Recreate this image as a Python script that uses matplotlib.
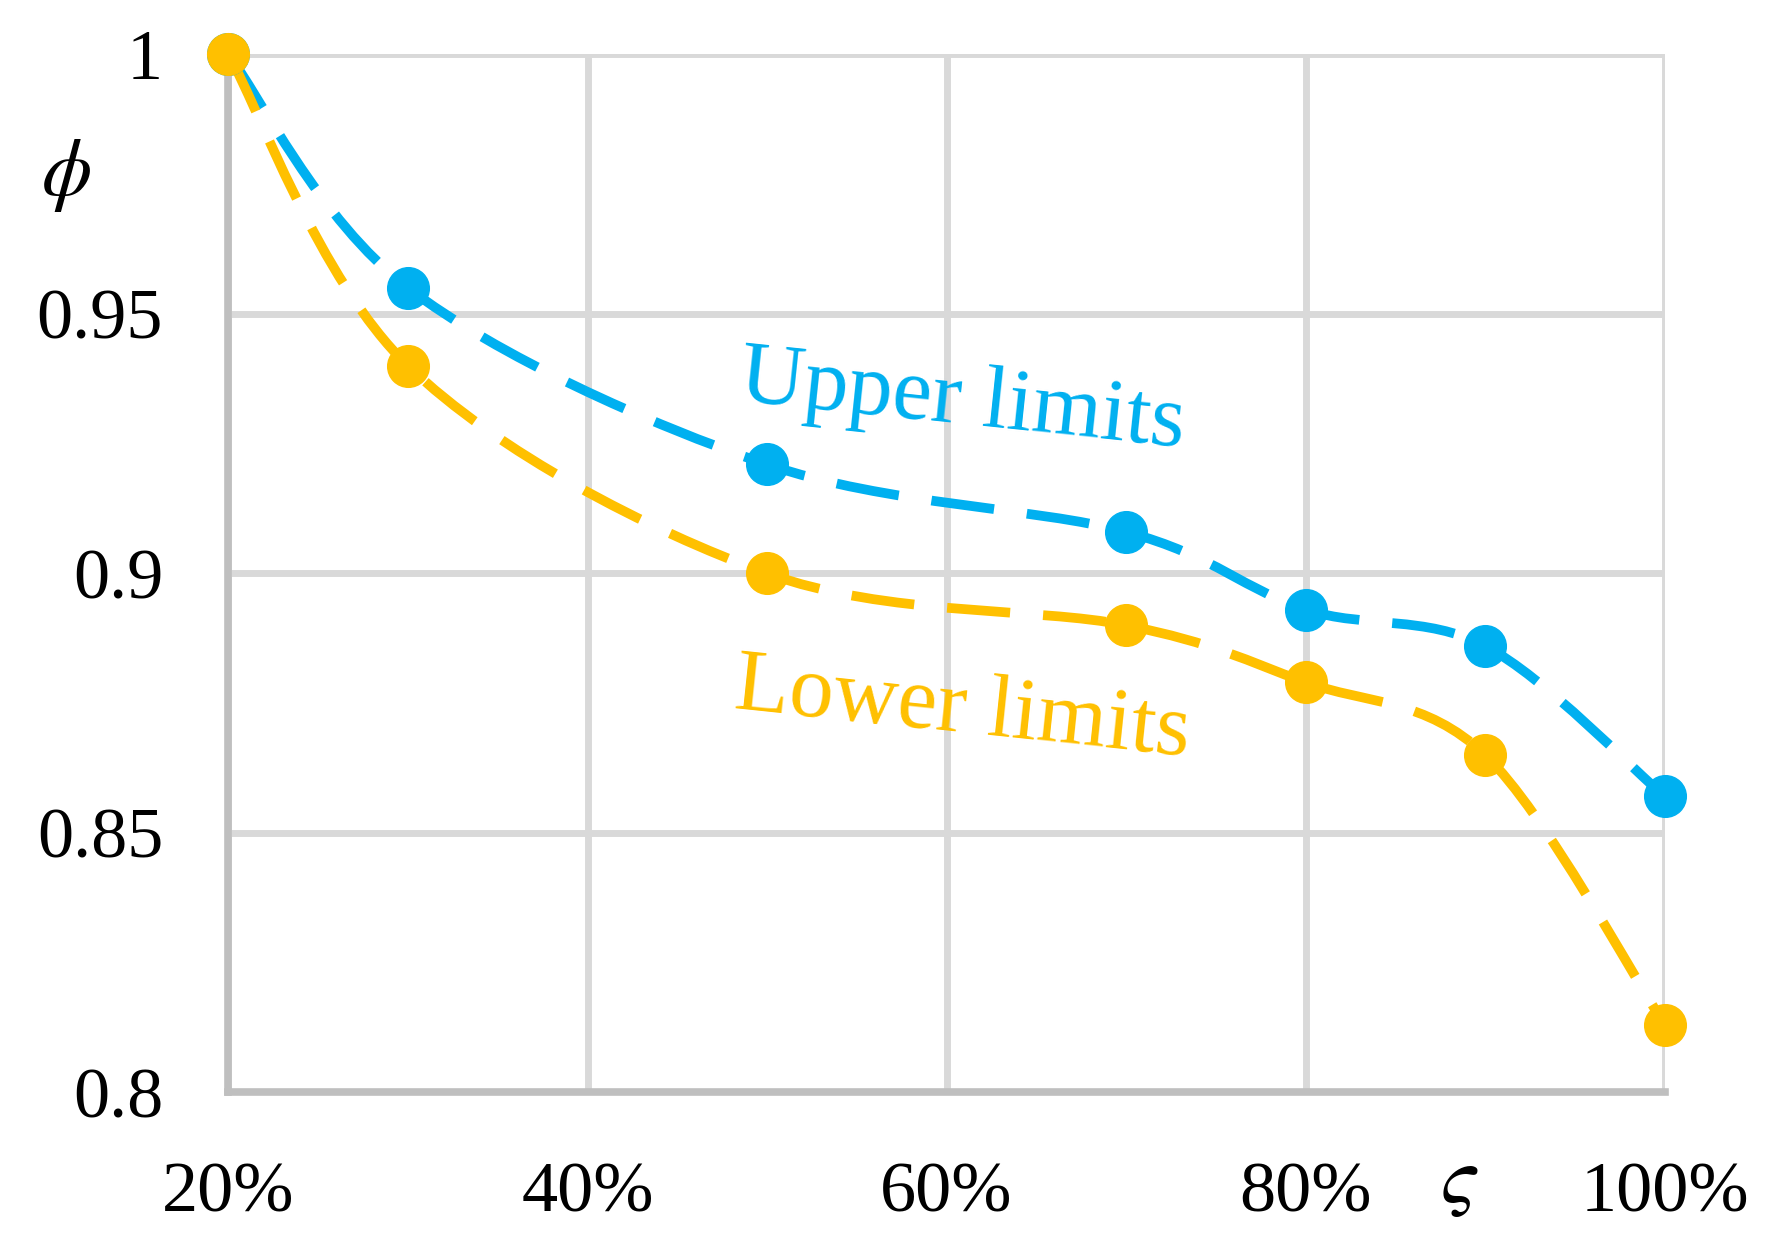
import matplotlib.pyplot as plt
from matplotlib.path import Path
from matplotlib.patches import PathPatch

# data
ratio = [20, 30, 50, 70, 80, 90, 100]
upper = [1.000, 0.955, 0.921, 0.908, 0.893, 0.886, 0.857]
lower = [1.000, 0.940, 0.900, 0.890, 0.879, 0.865, 0.813]
x_ticks = [20, 40, 60, 80, 100]
x_labels = ["20%", "40%", "60%", "80%", "100%"]
y_ticks = [0.8, 0.85, 0.9, 0.95, 1.0]
y_labels = ["0.8", "0.85", "0.9", "0.95", "1"]

BLUE = "#00B0F0"
GOLD = "#FFC000"
GRID = "#D9D9D9"
SPINE = "#BFBFBF"

plt.rcParams["font.family"] = ["Liberation Serif", "DejaVu Serif"]


def smooth_path(xs, ys):
    # excel-like smoothed line: cubic bezier segments through the points
    pts = list(zip(xs, ys))
    n = len(pts)
    verts = [pts[0]]
    codes = [Path.MOVETO]
    for i in range(n - 1):
        p0 = pts[i - 1] if i > 0 else pts[i]
        p1 = pts[i]
        p2 = pts[i + 1]
        p3 = pts[i + 2] if i + 2 < n else pts[i + 1]
        c1 = (p1[0] + (p2[0] - p0[0]) / 6, p1[1] + (p2[1] - p0[1]) / 6)
        c2 = (p2[0] - (p3[0] - p1[0]) / 6, p2[1] - (p3[1] - p1[1]) / 6)
        verts += [c1, c2, p2]
        codes += [Path.CURVE4] * 3
    return Path(verts, codes)


fig = plt.figure(figsize=(17.71, 12.37), dpi=100)
ax = fig.add_axes([0.129, 0.117, 0.811, 0.839])

for ys, color in [(upper, BLUE), (lower, GOLD)]:
    patch = PathPatch(smooth_path(ratio, ys), facecolor="none", edgecolor=color,
                      lw=7, linestyle=(0, (6.5, 3.4)), clip_on=False, zorder=3)
    ax.add_patch(patch)
    ax.plot(ratio, ys, linestyle="none", marker="o", markersize=30,
            color=color, clip_on=False, zorder=4)

ax.set_xlim(20, 100)
ax.set_ylim(0.8, 1.0)
ax.set_xticks(x_ticks)
ax.set_xticklabels(x_labels)
ax.set_yticks(y_ticks)
ax.set_yticklabels(y_labels)
ax.tick_params(length=0, labelsize=52)
ax.tick_params(axis="y", pad=47)
ax.tick_params(axis="x", pad=50)

ax.grid(True, color=GRID, lw=5, zorder=0)
ax.set_axisbelow(True)
for side in ["top", "right"]:
    ax.spines[side].set_visible(False)
for side in ["left", "bottom"]:
    ax.spines[side].set_color(SPINE)
    ax.spines[side].set_linewidth(5.5)

ax.text(60.9, 0.933, "Upper limits", color=BLUE, fontsize=64,
        rotation=-6, ha="center", va="center", zorder=5)
ax.text(60.9, 0.8735, "Lower limits", color=GOLD, fontsize=64,
        rotation=-6, ha="center", va="center", zorder=5)

ax.text(-0.113, 0.883, r"$\phi$", transform=ax.transAxes, fontsize=58,
        ha="center", va="center", math_fontfamily="stix")
ax.text(0.857, -0.087, r"$\varsigma$", transform=ax.transAxes, fontsize=58,
        ha="center", va="center", math_fontfamily="stix")

fig.savefig("out.png", dpi=100, facecolor="white")
